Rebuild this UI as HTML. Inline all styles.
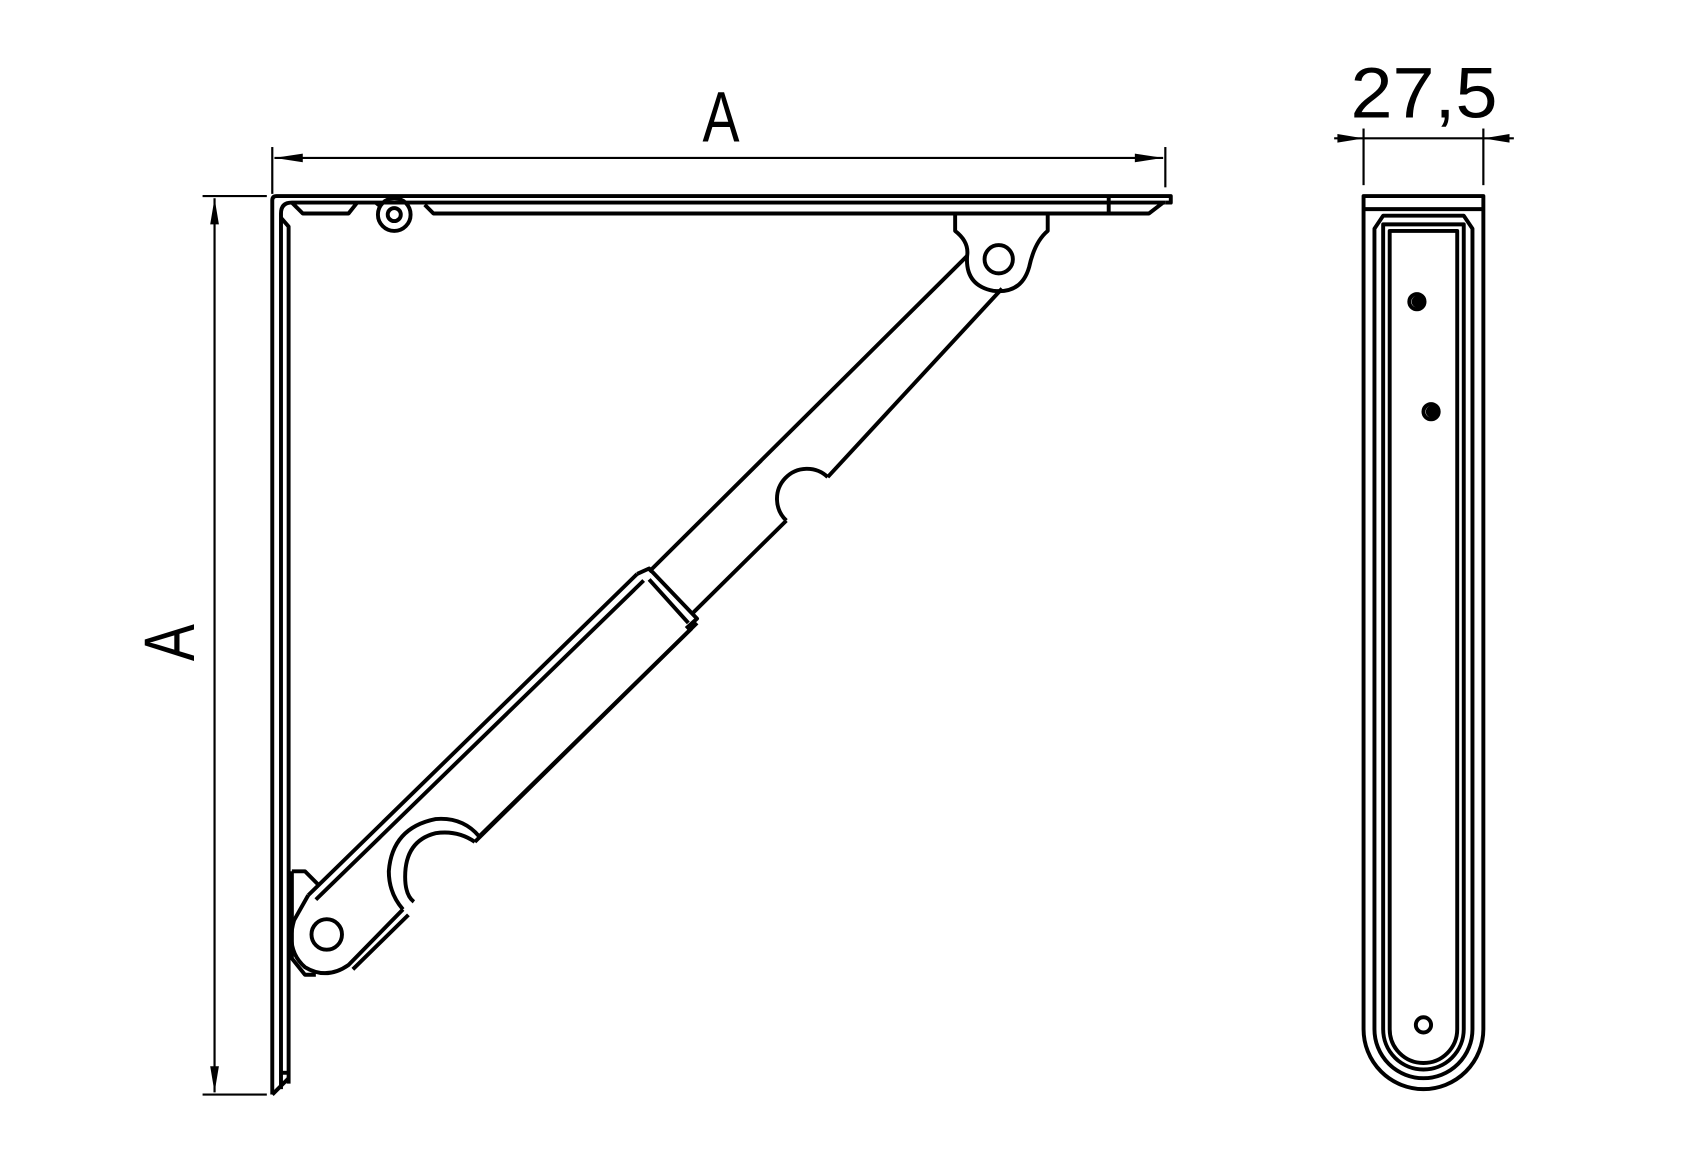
<!DOCTYPE html>
<html><head><style>html,body{margin:0;padding:0;background:#fff}svg{display:block}</style></head>
<body>
<svg width="1699" height="1167" viewBox="0 0 1560 1071.5" xmlns="http://www.w3.org/2000/svg" fill="none" stroke="#000" stroke-width="3.6" stroke-linejoin="round">
<g stroke-width="2">
<line x1="250" y1="135" x2="250" y2="178"/>
<line x1="1070" y1="135" x2="1070" y2="172"/>
<line x1="252" y1="145" x2="1068" y2="145"/>
<line x1="197" y1="182" x2="197" y2="1003"/>
<line x1="186" y1="180" x2="245" y2="180"/>
<line x1="186" y1="1005" x2="245" y2="1005"/>
<line x1="1252" y1="118" x2="1252" y2="170"/>
<line x1="1362" y1="118" x2="1362" y2="170"/>
<line x1="1225" y1="127" x2="1390" y2="127"/>
</g>
<g fill="#000" stroke="none">
<polygon points="252,145 278,141 278,149"/>
<polygon points="1068,145 1042,141 1042,149"/>
<polygon points="197,182 193,206 201,206"/>
<polygon points="197,1003 193,979 201,979"/>
<polygon points="1252,127 1228,123 1228,131"/>
<polygon points="1362,127 1386,123 1386,131"/>
</g>
<g fill="#000" stroke="none" font-family="Liberation Sans Narrow, Liberation Sans, sans-serif">
<text x="0" y="0" font-size="60" text-anchor="middle" transform="translate(662,130) scale(0.85,1.1)">A</text>
<text x="0" y="0" font-size="60" text-anchor="middle" transform="translate(178,590) rotate(-90) scale(0.85,1.1)">A</text>
<text x="1240" y="108" font-size="66" textLength="135" lengthAdjust="spacingAndGlyphs">27,5</text>
</g>
<path d="M250,1005 L250,184 Q250,180 254,180 L1075,180 L1075,186 L1070,186"/>
<path d="M258,1000 L258,196 Q258,186 268,186 L1070,186"/>
<path d="M265,995 L265,208 L258,200"/>
<path d="M268,186 L278,196 L320,196 L328,186"/>
<path d="M345,186 L350,190"/>
<path d="M390,188 L398,196 L1055,196 L1068,186"/>
<path d="M1018,180 L1018,196"/>
<path d="M258,985 L265,985"/>
<path d="M250,1005 L265,990"/>
<circle cx="362" cy="197" r="15"/><circle cx="362" cy="197" r="6"/>
<path d="M877,196 L877,212 Q890,222 888,235 Q886,262 912,267 Q938,270 945,245 Q950,222 962,212 L962,196"/>
<circle cx="917" cy="238" r="13"/>
<path d="M888,235 L596,525"/>
<path d="M920,265 L760,438"/>
<path d="M760,438 A22,22 0 1 0 722,478"/>
<path d="M722,478 L636,563"/>
<path d="M585,527 L596,522 L640,568 L630,577"/>
<path d="M596,532 L632,572"/>
<path d="M585,527 L283,822"/>
<path d="M591,533 L290,826"/>
<path d="M640,572 L440,768"/>
<path d="M635,577 L436,773"/>
<path d="M440,768 Q425,750 400,752 Q360,760 357,800 Q357,820 370,835"/>
<path d="M436,773 Q420,762 400,765 Q372,772 372,805 Q372,822 380,828"/>
<path d="M370,835 L320,886 Q300,900 280,888 Q262,872 270,845 L283,822"/>
<path d="M375,840 L324,890"/>
<circle cx="300" cy="858" r="14"/>
<path d="M268,800 L280,800 L292,812"/>
<path d="M268,800 L268,880 L280,895 L290,895"/>
<path d="M1252,180 L1362,180 L1362,945 A55,55 0 0 1 1252,945 Z"/>
<path d="M1252,192 L1362,192"/>
<path d="M1262,210 L1270,198 L1344,198 L1352,210 L1352,945 A45,45 0 0 1 1262,945 Z"/>
<path d="M1270,206 L1344,206 L1344,945 A37,37 0 0 1 1270,945 Z"/>
<path d="M1276,212 L1338,212 L1338,945 A31,31 0 0 1 1276,945 Z"/>
<circle cx="1301" cy="277" r="7"/>
<circle cx="1314" cy="378" r="7"/>
<circle cx="1307" cy="941" r="7"/>
<circle cx="1302" cy="277" r="4" fill="#000"/>
<circle cx="1315" cy="378" r="4" fill="#000"/>
</svg>
</body></html>
